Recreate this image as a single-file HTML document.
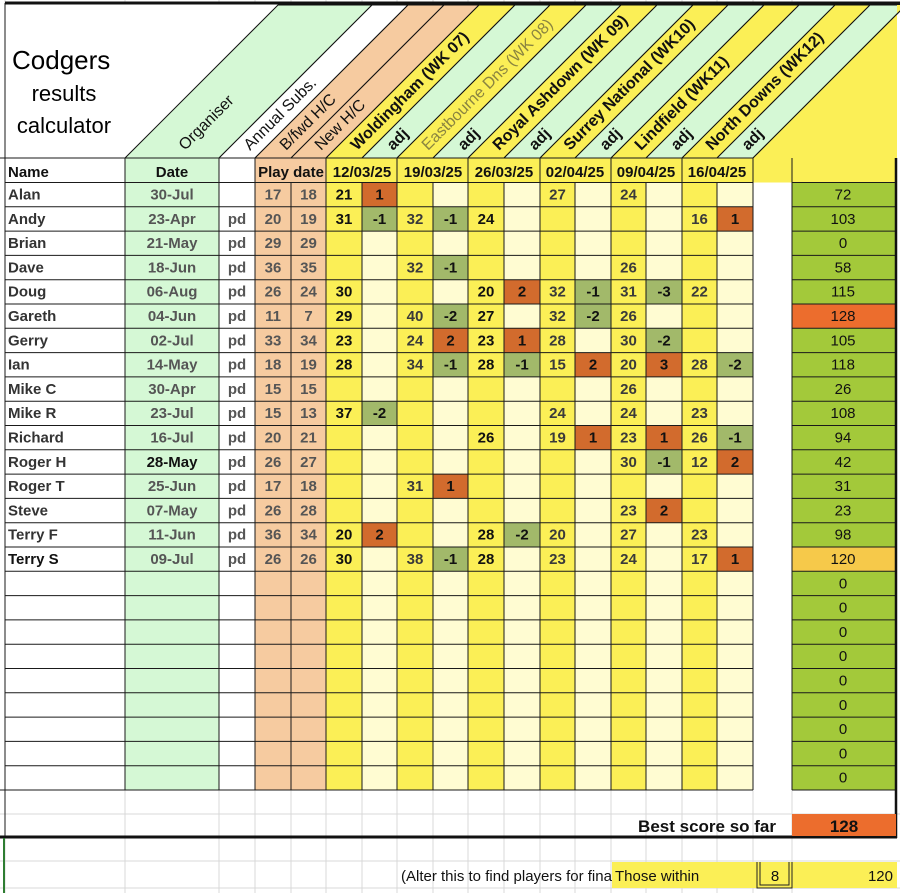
<!DOCTYPE html>
<html><head><meta charset="utf-8"><style>
html,body{margin:0;padding:0;background:#fff;}
svg{display:block;}
text{font-family:"Liberation Sans",Arial,sans-serif;}
.n{font-weight:bold;font-size:15px;fill:#333;}
.c{font-weight:bold;font-size:15px;text-anchor:middle;fill:#111;}
.g{font-weight:bold;font-size:15px;text-anchor:middle;fill:#3a3a3a;}
.o{font-weight:bold;font-size:15px;text-anchor:middle;fill:#555;}
.t{font-size:15px;text-anchor:middle;fill:#111;}
.h{font-size:16px;fill:#111;}
.hb{font-size:16px;font-weight:bold;fill:#111;}
</style></head><body>
<svg width="900" height="893" viewBox="0 0 900 893" xmlns="http://www.w3.org/2000/svg">
<g stroke="#d8d8d8" stroke-width="1">
<line x1="125" y1="0" x2="125" y2="893"/><line x1="219" y1="0" x2="219" y2="893"/><line x1="255" y1="0" x2="255" y2="893"/><line x1="291" y1="0" x2="291" y2="893"/><line x1="326" y1="0" x2="326" y2="893"/><line x1="362" y1="0" x2="362" y2="893"/><line x1="397" y1="0" x2="397" y2="893"/><line x1="433" y1="0" x2="433" y2="893"/><line x1="468" y1="0" x2="468" y2="893"/><line x1="504" y1="0" x2="504" y2="893"/><line x1="540" y1="0" x2="540" y2="893"/><line x1="575" y1="0" x2="575" y2="893"/><line x1="611" y1="0" x2="611" y2="893"/><line x1="646" y1="0" x2="646" y2="893"/><line x1="682" y1="0" x2="682" y2="893"/><line x1="717" y1="0" x2="717" y2="893"/><line x1="753" y1="0" x2="753" y2="893"/><line x1="792" y1="0" x2="792" y2="893"/><line x1="5" y1="0" x2="5" y2="893"/>
<line x1="0" y1="814" x2="900" y2="814"/><line x1="0" y1="861" x2="900" y2="861"/><line x1="0" y1="888" x2="900" y2="888"/>
</g>
<rect x="5" y="4" width="892" height="154" fill="#fff"/>
<g stroke="#111" stroke-width="1">
<polygon points="125,158 219,158 372,5 278,5" fill="#d5f8d5"/>
<polygon points="219,158 255,158 408,5 372,5" fill="#fff"/>
<polygon points="255,158 291,158 444,5 408,5" fill="#f6cba0"/>
<polygon points="291,158 326,158 479,5 444,5" fill="#f6cba0"/>
<polygon points="326,158 362,158 515,5 479,5" fill="#fbef56"/>
<polygon points="362,158 397,158 550,5 515,5" fill="#d5f8d5"/>
<polygon points="397,158 433,158 586,5 550,5" fill="#fbef56"/>
<polygon points="433,158 468,158 621,5 586,5" fill="#d5f8d5"/>
<polygon points="468,158 504,158 657,5 621,5" fill="#fbef56"/>
<polygon points="504,158 540,158 693,5 657,5" fill="#d5f8d5"/>
<polygon points="540,158 575,158 728,5 693,5" fill="#fbef56"/>
<polygon points="575,158 611,158 764,5 728,5" fill="#d5f8d5"/>
<polygon points="611,158 646,158 799,5 764,5" fill="#fbef56"/>
<polygon points="646,158 682,158 835,5 799,5" fill="#d5f8d5"/>
<polygon points="682,158 717,158 870,5 835,5" fill="#fbef56"/>
<polygon points="717,158 753,158 906,5 870,5" fill="#d5f8d5"/>
</g>
<polygon points="753,158 906,5 897,5 897,182.5 753,182.5" fill="#fbef56"/>
<line x1="753" y1="158" x2="906" y2="5" stroke="#111"/>
<text x="12" y="69" style="font-size:26px">Codgers</text>
<text x="64" y="101" style="font-size:22px" text-anchor="middle">results</text>
<text x="64" y="133" style="font-size:22px" text-anchor="middle">calculator</text>
<text class="h" transform="translate(185,151) rotate(-45)">Organiser</text>
<text class="h" transform="translate(250,151) rotate(-45)">Annual Subs.</text>
<text class="h" transform="translate(286,151) rotate(-45)">B/fwd H/C</text>
<text class="h" transform="translate(321,151) rotate(-45)">New H/C</text>
<text class="hb" transform="translate(357,151) rotate(-45)">Woldingham (WK 07)</text>
<text class="hb" transform="translate(393,151) rotate(-45)">adj</text>
<text class="h" style="fill:#8a8440" transform="translate(428,151) rotate(-45)">Eastbourne Dns (WK 08)</text>
<text class="hb" transform="translate(464,151) rotate(-45)">adj</text>
<text class="hb" transform="translate(499,151) rotate(-45)">Royal Ashdown (WK 09)</text>
<text class="hb" transform="translate(535,151) rotate(-45)">adj</text>
<text class="hb" transform="translate(570,151) rotate(-45)">Surrey National (WK10)</text>
<text class="hb" transform="translate(606,151) rotate(-45)">adj</text>
<text class="hb" transform="translate(641,151) rotate(-45)">Lindfield (WK11)</text>
<text class="hb" transform="translate(677,151) rotate(-45)">adj</text>
<text class="hb" transform="translate(712,151) rotate(-45)">North Downs (WK12)</text>
<text class="hb" transform="translate(748,151) rotate(-45)">adj</text>
<rect x="5" y="158" width="120" height="632" fill="#fff"/>
<rect x="125" y="158" width="94" height="632" fill="#d5f8d5"/>
<rect x="219" y="158" width="36" height="632" fill="#fff"/>
<rect x="255" y="158" width="71" height="632" fill="#f6cba0"/>
<rect x="326" y="158" width="427" height="24.5" fill="#fbef56"/>
<g fill="#fbef56"><rect x="326" y="182.5" width="36" height="607.5"/><rect x="397" y="182.5" width="36" height="607.5"/><rect x="468" y="182.5" width="36" height="607.5"/><rect x="540" y="182.5" width="35" height="607.5"/><rect x="611" y="182.5" width="35" height="607.5"/><rect x="682" y="182.5" width="35" height="607.5"/></g>
<g fill="#fffcd2"><rect x="362" y="182.5" width="35" height="607.5"/><rect x="433" y="182.5" width="35" height="607.5"/><rect x="504" y="182.5" width="36" height="607.5"/><rect x="575" y="182.5" width="36" height="607.5"/><rect x="646" y="182.5" width="36" height="607.5"/><rect x="717" y="182.5" width="36" height="607.5"/></g>
<rect x="753" y="182.5" width="39" height="607.5" fill="#fff"/>
<rect x="792" y="182.5" width="104" height="607.5" fill="#a3c93a"/>
<rect x="792" y="304" width="104" height="24.3" fill="#ec6d2d"/>
<rect x="792" y="547" width="104" height="24.3" fill="#f6c94a"/>
<g fill="#d26b2d">
<rect x="362" y="182.5" width="35" height="24.3"/>
<rect x="717" y="206.8" width="36" height="24.3"/>
<rect x="504" y="279.7" width="36" height="24.3"/>
<rect x="433" y="328.3" width="35" height="24.3"/><rect x="504" y="328.3" width="36" height="24.3"/>
<rect x="575" y="352.6" width="36" height="24.3"/><rect x="646" y="352.6" width="36" height="24.3"/>
<rect x="575" y="425.5" width="36" height="24.3"/><rect x="646" y="425.5" width="36" height="24.3"/>
<rect x="717" y="449.8" width="36" height="24.3"/>
<rect x="433" y="474.1" width="35" height="24.3"/>
<rect x="646" y="498.4" width="36" height="24.3"/>
<rect x="362" y="522.7" width="35" height="24.3"/>
<rect x="717" y="547" width="36" height="24.3"/>
</g>
<g fill="#a2b96a">
<rect x="362" y="206.8" width="35" height="24.3"/><rect x="433" y="206.8" width="35" height="24.3"/>
<rect x="433" y="255.4" width="35" height="24.3"/>
<rect x="575" y="279.7" width="36" height="24.3"/><rect x="646" y="279.7" width="36" height="24.3"/>
<rect x="433" y="304" width="35" height="24.3"/><rect x="575" y="304" width="36" height="24.3"/>
<rect x="646" y="328.3" width="36" height="24.3"/>
<rect x="433" y="352.6" width="35" height="24.3"/><rect x="504" y="352.6" width="36" height="24.3"/><rect x="717" y="352.6" width="36" height="24.3"/>
<rect x="362" y="401.2" width="35" height="24.3"/>
<rect x="717" y="425.5" width="36" height="24.3"/>
<rect x="646" y="449.8" width="36" height="24.3"/>
<rect x="504" y="522.7" width="36" height="24.3"/>
<rect x="433" y="547" width="35" height="24.3"/>
</g>
<g stroke="#1a1a1a" stroke-width="1">
<line x1="0" y1="158" x2="753" y2="158"/>
<line x1="5" y1="182.5" x2="753" y2="182.5"/><line x1="5" y1="206.8" x2="753" y2="206.8"/><line x1="5" y1="231.1" x2="753" y2="231.1"/><line x1="5" y1="255.4" x2="753" y2="255.4"/><line x1="5" y1="279.7" x2="753" y2="279.7"/><line x1="5" y1="304" x2="753" y2="304"/><line x1="5" y1="328.3" x2="753" y2="328.3"/><line x1="5" y1="352.6" x2="753" y2="352.6"/><line x1="5" y1="376.9" x2="753" y2="376.9"/><line x1="5" y1="401.2" x2="753" y2="401.2"/><line x1="5" y1="425.5" x2="753" y2="425.5"/><line x1="5" y1="449.8" x2="753" y2="449.8"/><line x1="5" y1="474.1" x2="753" y2="474.1"/><line x1="5" y1="498.4" x2="753" y2="498.4"/><line x1="5" y1="522.7" x2="753" y2="522.7"/><line x1="5" y1="547" x2="753" y2="547"/><line x1="5" y1="571.3" x2="753" y2="571.3"/><line x1="5" y1="595.6" x2="753" y2="595.6"/><line x1="5" y1="619.9" x2="753" y2="619.9"/><line x1="5" y1="644.2" x2="753" y2="644.2"/><line x1="5" y1="668.5" x2="753" y2="668.5"/><line x1="5" y1="692.8" x2="753" y2="692.8"/><line x1="5" y1="717.1" x2="753" y2="717.1"/><line x1="5" y1="741.4" x2="753" y2="741.4"/><line x1="5" y1="765.7" x2="753" y2="765.7"/><line x1="0" y1="790" x2="753" y2="790"/>
<line x1="792" y1="182.5" x2="896" y2="182.5"/><line x1="792" y1="206.8" x2="896" y2="206.8"/><line x1="792" y1="231.1" x2="896" y2="231.1"/><line x1="792" y1="255.4" x2="896" y2="255.4"/><line x1="792" y1="279.7" x2="896" y2="279.7"/><line x1="792" y1="304" x2="896" y2="304"/><line x1="792" y1="328.3" x2="896" y2="328.3"/><line x1="792" y1="352.6" x2="896" y2="352.6"/><line x1="792" y1="376.9" x2="896" y2="376.9"/><line x1="792" y1="401.2" x2="896" y2="401.2"/><line x1="792" y1="425.5" x2="896" y2="425.5"/><line x1="792" y1="449.8" x2="896" y2="449.8"/><line x1="792" y1="474.1" x2="896" y2="474.1"/><line x1="792" y1="498.4" x2="896" y2="498.4"/><line x1="792" y1="522.7" x2="896" y2="522.7"/><line x1="792" y1="547" x2="896" y2="547"/><line x1="792" y1="571.3" x2="896" y2="571.3"/><line x1="792" y1="595.6" x2="896" y2="595.6"/><line x1="792" y1="619.9" x2="896" y2="619.9"/><line x1="792" y1="644.2" x2="896" y2="644.2"/><line x1="792" y1="668.5" x2="896" y2="668.5"/><line x1="792" y1="692.8" x2="896" y2="692.8"/><line x1="792" y1="717.1" x2="896" y2="717.1"/><line x1="792" y1="741.4" x2="896" y2="741.4"/><line x1="792" y1="765.7" x2="896" y2="765.7"/><line x1="792" y1="790" x2="896" y2="790"/>
<line x1="792" y1="158" x2="792" y2="790"/>
<line x1="125" y1="158" x2="125" y2="790"/><line x1="219" y1="158" x2="219" y2="790"/><line x1="255" y1="158" x2="255" y2="790"/><line x1="291" y1="182.5" x2="291" y2="790"/><line x1="326" y1="158" x2="326" y2="790"/><line x1="362" y1="182.5" x2="362" y2="790"/><line x1="397" y1="158" x2="397" y2="790"/><line x1="433" y1="182.5" x2="433" y2="790"/><line x1="468" y1="158" x2="468" y2="790"/><line x1="504" y1="182.5" x2="504" y2="790"/><line x1="540" y1="158" x2="540" y2="790"/><line x1="575" y1="182.5" x2="575" y2="790"/><line x1="611" y1="158" x2="611" y2="790"/><line x1="646" y1="182.5" x2="646" y2="790"/><line x1="682" y1="158" x2="682" y2="790"/><line x1="717" y1="182.5" x2="717" y2="790"/><line x1="753" y1="158" x2="753" y2="790"/>
<line x1="5" y1="3" x2="5" y2="837"/>
</g>
<line x1="5" y1="3" x2="900" y2="3" stroke="#111" stroke-width="3"/>
<line x1="896" y1="158" x2="896" y2="838" stroke="#111" stroke-width="2.5"/>
<line x1="0" y1="837" x2="897" y2="837" stroke="#111" stroke-width="3"/>
<line x1="4" y1="838" x2="4" y2="893" stroke="#2e7d32" stroke-width="2"/>
<text x="8" y="177" style="font-weight:bold;font-size:15px;fill:#111">Name</text>
<text x="172" y="177" class="c">Date</text>
<text x="291" y="177" class="c">Play date</text>
<text x="362" y="177" class="c">12/03/25</text>
<text x="433" y="177" class="c">19/03/25</text>
<text x="504" y="177" class="c">26/03/25</text>
<text x="575" y="177" class="c">02/04/25</text>
<text x="646" y="177" class="c">09/04/25</text>
<text x="717" y="177" class="c">16/04/25</text>
<g transform="translate(0,182.5)"><text x="8" y="17" class="n">Alan</text><text x="172" y="17" class="o">30-Jul</text><text x="273" y="17" class="o">17</text><text x="308.5" y="17" class="o">18</text><text x="344" y="17" class="c">21</text><text x="379.5" y="17" class="c">1</text><text x="557.5" y="17" class="g">27</text><text x="628.5" y="17" class="g">24</text><text x="843" y="17" class="t">72</text></g>
<g transform="translate(0,206.8)"><text x="8" y="17" class="n">Andy</text><text x="172" y="17" class="o">23-Apr</text><text x="237" y="17" class="o">pd</text><text x="273" y="17" class="o">20</text><text x="308.5" y="17" class="o">19</text><text x="344" y="17" class="c">31</text><text x="379.5" y="17" class="c">-1</text><text x="415" y="17" class="g">32</text><text x="450.5" y="17" class="c">-1</text><text x="486" y="17" class="c">24</text><text x="699.5" y="17" class="g">16</text><text x="735" y="17" class="c">1</text><text x="843" y="17" class="t">103</text></g>
<g transform="translate(0,231.1)"><text x="8" y="17" class="n">Brian</text><text x="172" y="17" class="o">21-May</text><text x="237" y="17" class="o">pd</text><text x="273" y="17" class="o">29</text><text x="308.5" y="17" class="o">29</text><text x="843" y="17" class="t">0</text></g>
<g transform="translate(0,255.4)"><text x="8" y="17" class="n">Dave</text><text x="172" y="17" class="o">18-Jun</text><text x="237" y="17" class="o">pd</text><text x="273" y="17" class="o">36</text><text x="308.5" y="17" class="o">35</text><text x="415" y="17" class="g">32</text><text x="450.5" y="17" class="c">-1</text><text x="628.5" y="17" class="g">26</text><text x="843" y="17" class="t">58</text></g>
<g transform="translate(0,279.7)"><text x="8" y="17" class="n">Doug</text><text x="172" y="17" class="o">06-Aug</text><text x="237" y="17" class="o">pd</text><text x="273" y="17" class="o">26</text><text x="308.5" y="17" class="o">24</text><text x="344" y="17" class="c">30</text><text x="486" y="17" class="c">20</text><text x="522" y="17" class="c">2</text><text x="557.5" y="17" class="g">32</text><text x="593" y="17" class="c">-1</text><text x="628.5" y="17" class="g">31</text><text x="664" y="17" class="c">-3</text><text x="699.5" y="17" class="g">22</text><text x="843" y="17" class="t">115</text></g>
<g transform="translate(0,304)"><text x="8" y="17" class="n">Gareth</text><text x="172" y="17" class="o">04-Jun</text><text x="237" y="17" class="o">pd</text><text x="273" y="17" class="o">11</text><text x="308.5" y="17" class="o">7</text><text x="344" y="17" class="c">29</text><text x="415" y="17" class="g">40</text><text x="450.5" y="17" class="c">-2</text><text x="486" y="17" class="c">27</text><text x="557.5" y="17" class="g">32</text><text x="593" y="17" class="c">-2</text><text x="628.5" y="17" class="g">26</text><text x="843" y="17" class="t">128</text></g>
<g transform="translate(0,328.3)"><text x="8" y="17" class="n">Gerry</text><text x="172" y="17" class="o">02-Jul</text><text x="237" y="17" class="o">pd</text><text x="273" y="17" class="o">33</text><text x="308.5" y="17" class="o">34</text><text x="344" y="17" class="c">23</text><text x="415" y="17" class="g">24</text><text x="450.5" y="17" class="c">2</text><text x="486" y="17" class="c">23</text><text x="522" y="17" class="c">1</text><text x="557.5" y="17" class="g">28</text><text x="628.5" y="17" class="g">30</text><text x="664" y="17" class="c">-2</text><text x="843" y="17" class="t">105</text></g>
<g transform="translate(0,352.6)"><text x="8" y="17" class="n">Ian</text><text x="172" y="17" class="o">14-May</text><text x="237" y="17" class="o">pd</text><text x="273" y="17" class="o">18</text><text x="308.5" y="17" class="o">19</text><text x="344" y="17" class="c">28</text><text x="415" y="17" class="g">34</text><text x="450.5" y="17" class="c">-1</text><text x="486" y="17" class="c">28</text><text x="522" y="17" class="c">-1</text><text x="557.5" y="17" class="g">15</text><text x="593" y="17" class="c">2</text><text x="628.5" y="17" class="g">20</text><text x="664" y="17" class="c">3</text><text x="699.5" y="17" class="g">28</text><text x="735" y="17" class="c">-2</text><text x="843" y="17" class="t">118</text></g>
<g transform="translate(0,376.9)"><text x="8" y="17" class="n">Mike C</text><text x="172" y="17" class="o">30-Apr</text><text x="237" y="17" class="o">pd</text><text x="273" y="17" class="o">15</text><text x="308.5" y="17" class="o">15</text><text x="628.5" y="17" class="g">26</text><text x="843" y="17" class="t">26</text></g>
<g transform="translate(0,401.2)"><text x="8" y="17" class="n">Mike R</text><text x="172" y="17" class="o">23-Jul</text><text x="237" y="17" class="o">pd</text><text x="273" y="17" class="o">15</text><text x="308.5" y="17" class="o">13</text><text x="344" y="17" class="c">37</text><text x="379.5" y="17" class="c">-2</text><text x="557.5" y="17" class="g">24</text><text x="628.5" y="17" class="g">24</text><text x="699.5" y="17" class="g">23</text><text x="843" y="17" class="t">108</text></g>
<g transform="translate(0,425.5)"><text x="8" y="17" class="n">Richard</text><text x="172" y="17" class="o">16-Jul</text><text x="237" y="17" class="o">pd</text><text x="273" y="17" class="o">20</text><text x="308.5" y="17" class="o">21</text><text x="486" y="17" class="c">26</text><text x="557.5" y="17" class="g">19</text><text x="593" y="17" class="c">1</text><text x="628.5" y="17" class="g">23</text><text x="664" y="17" class="c">1</text><text x="699.5" y="17" class="g">26</text><text x="735" y="17" class="c">-1</text><text x="843" y="17" class="t">94</text></g>
<g transform="translate(0,449.8)"><text x="8" y="17" class="n">Roger H</text><text x="172" y="17" class="c">28-May</text><text x="237" y="17" class="o">pd</text><text x="273" y="17" class="o">26</text><text x="308.5" y="17" class="o">27</text><text x="628.5" y="17" class="g">30</text><text x="664" y="17" class="c">-1</text><text x="699.5" y="17" class="g">12</text><text x="735" y="17" class="c">2</text><text x="843" y="17" class="t">42</text></g>
<g transform="translate(0,474.1)"><text x="8" y="17" class="n">Roger T</text><text x="172" y="17" class="o">25-Jun</text><text x="237" y="17" class="o">pd</text><text x="273" y="17" class="o">17</text><text x="308.5" y="17" class="o">18</text><text x="415" y="17" class="g">31</text><text x="450.5" y="17" class="c">1</text><text x="843" y="17" class="t">31</text></g>
<g transform="translate(0,498.4)"><text x="8" y="17" class="n">Steve</text><text x="172" y="17" class="o">07-May</text><text x="237" y="17" class="o">pd</text><text x="273" y="17" class="o">26</text><text x="308.5" y="17" class="o">28</text><text x="628.5" y="17" class="g">23</text><text x="664" y="17" class="c">2</text><text x="843" y="17" class="t">23</text></g>
<g transform="translate(0,522.7)"><text x="8" y="17" class="n">Terry F</text><text x="172" y="17" class="o">11-Jun</text><text x="237" y="17" class="o">pd</text><text x="273" y="17" class="o">36</text><text x="308.5" y="17" class="o">34</text><text x="344" y="17" class="c">20</text><text x="379.5" y="17" class="c">2</text><text x="486" y="17" class="c">28</text><text x="522" y="17" class="c">-2</text><text x="557.5" y="17" class="g">20</text><text x="628.5" y="17" class="g">27</text><text x="699.5" y="17" class="g">23</text><text x="843" y="17" class="t">98</text></g>
<g transform="translate(0,547)"><text x="8" y="17" style="font-weight:bold;font-size:15px;fill:#111">Terry S</text><text x="172" y="17" class="o">09-Jul</text><text x="237" y="17" class="o">pd</text><text x="273" y="17" class="o">26</text><text x="308.5" y="17" class="o">26</text><text x="344" y="17" class="c">30</text><text x="415" y="17" class="g">38</text><text x="450.5" y="17" class="c">-1</text><text x="486" y="17" class="c">28</text><text x="557.5" y="17" class="g">23</text><text x="628.5" y="17" class="g">24</text><text x="699.5" y="17" class="g">17</text><text x="735" y="17" class="c">1</text><text x="843" y="17" class="t">120</text></g>
<text x="843" y="588.3" class="t">0</text><text x="843" y="612.6" class="t">0</text><text x="843" y="636.9" class="t">0</text><text x="843" y="661.2" class="t">0</text><text x="843" y="685.5" class="t">0</text><text x="843" y="709.8" class="t">0</text><text x="843" y="734.1" class="t">0</text><text x="843" y="758.4" class="t">0</text><text x="843" y="782.7" class="t">0</text>
<rect x="792" y="814" width="104" height="22" fill="#ec6d2d"/>
<text x="776" y="832" text-anchor="end" style="font-weight:bold;font-size:17px;fill:#111">Best score so far</text>
<text x="844" y="832" text-anchor="middle" style="font-weight:bold;font-size:17px;fill:#111">128</text>
<rect x="612" y="862" width="285" height="26" fill="#fbef56"/>
<svg x="0" y="860" width="612" height="30"><text x="401" y="21" style="font-size:15px;fill:#111">(Alter this to find players for final)</text></svg>
<text x="615" y="881" style="font-size:15px;fill:#111">Those within</text>
<g stroke="#222" stroke-width="1" fill="none">
<polyline points="757,862 757,888 792,888 792,862"/>
<polyline points="760,862 760,885 789,885 789,862"/>
</g>
<text x="775" y="881" text-anchor="middle" style="font-size:15px;fill:#111">8</text>
<text x="893" y="881" text-anchor="end" style="font-size:15px;fill:#111">120</text>
</svg>
</body></html>
